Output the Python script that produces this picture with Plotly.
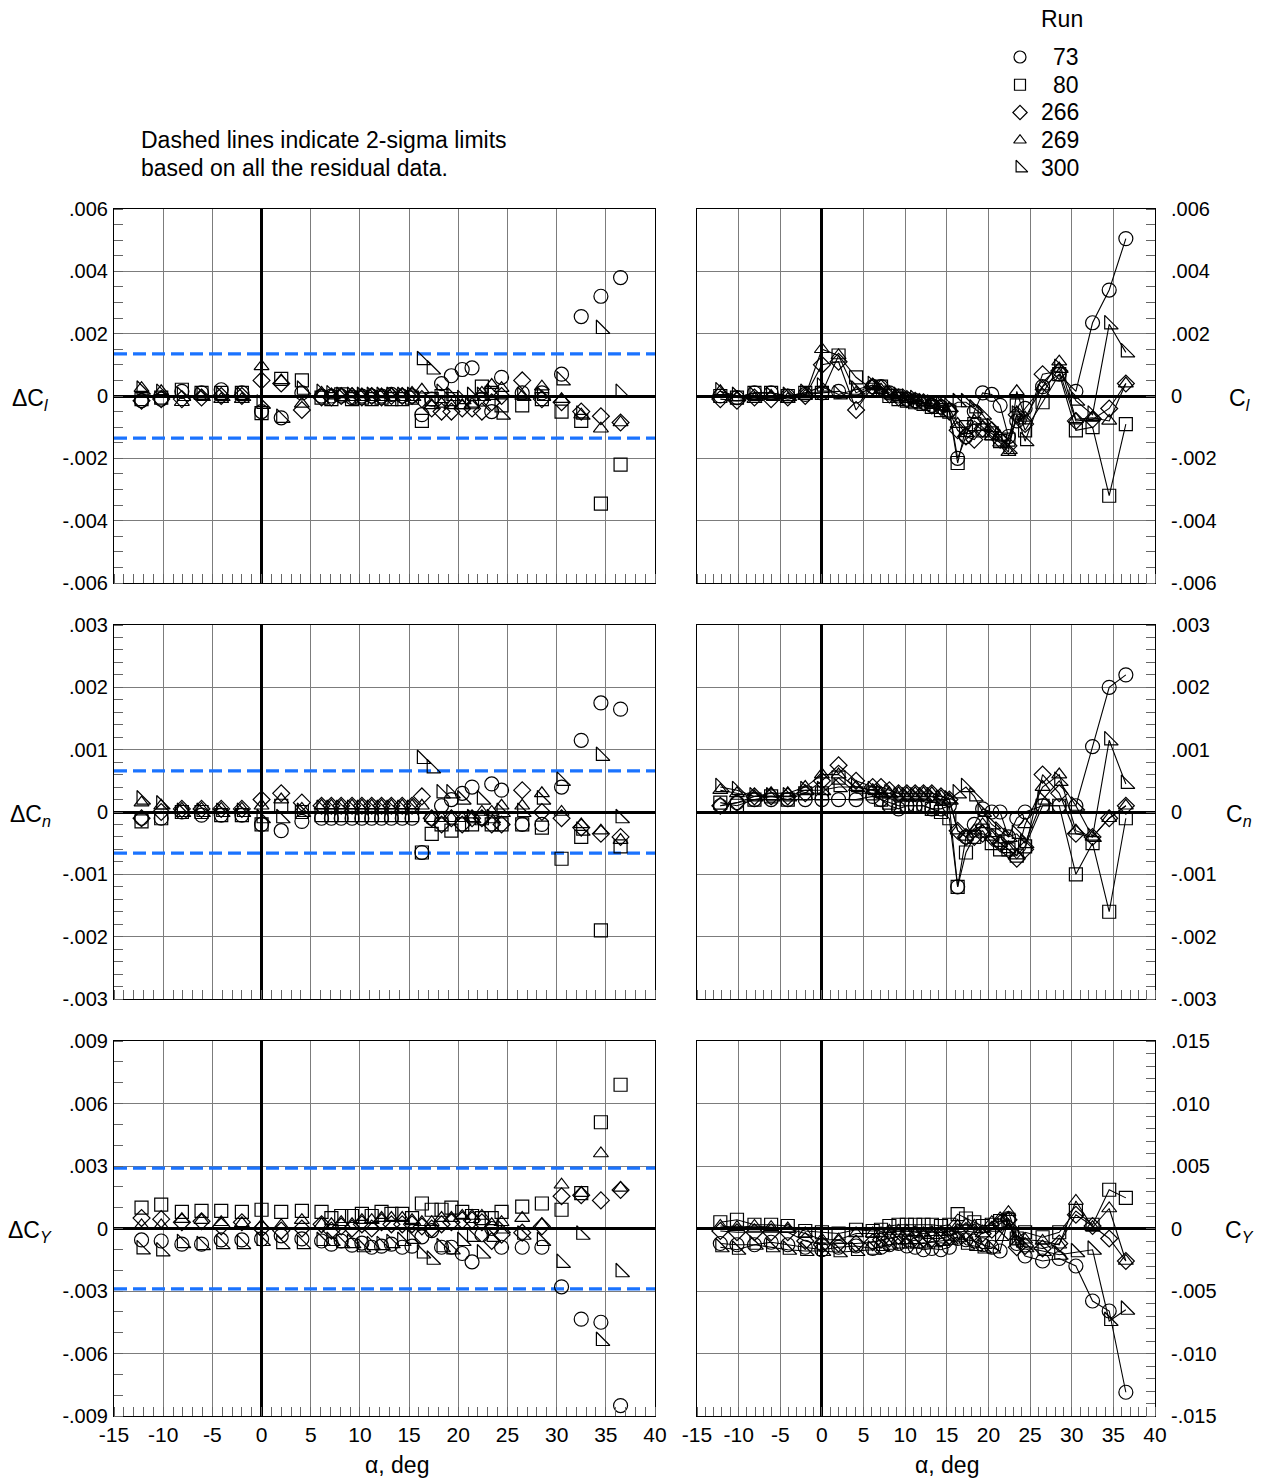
import plotly.graph_objects as go

W, H = 1267, 1479
FONT = "Liberation Sans, Arial, sans-serif"

# Angle of attack, deg (shared by all runs)
ALPHA = [-12.2, -10.2, -8.1, -6.1, -4.1, -2.0, 0.0, 2.0, 4.1, 6.1, 7.1, 8.1,
         9.2, 10.2, 11.2, 12.2, 13.2, 14.3, 15.3, 16.3, 17.3, 18.3, 19.3,
         20.4, 21.4, 22.4, 23.4, 24.4, 26.5, 28.5, 30.5, 32.5, 34.5, 36.5]

RUNS = ["73", "80", "266", "269", "300"]
SYMBOLS = ["circle-open", "square-open", "diamond-open", "triangle-up-open", "triangle-sw-open"]
SIZES = [14, 13, 13, 13, 15]

SCALE = 1e-3  # all coefficient lists below are in thousandths

# Residual rolling moment, delta C_l
dcl_73 = [-0.15, -0.1, 0.15, 0.1, 0.2, 0.1, -0.5, -0.7, 0.1, 0.0, 0.0, 0.0, -0.05, 0.0, 0.0, 0.0, 0.05,
          0.0, 0.0, -0.6, -0.1, 0.4, 0.65, 0.85, 0.9, -0.1, -0.5, 0.6, 0.1, 0.1, 0.7, 2.55, 3.2, 3.8]
dcl_80 = [-0.1, -0.05, 0.2, 0.1, 0.1, 0.1, -0.55, 0.55, 0.5, -0.05, -0.1, 0.05, -0.1, -0.05, -0.1, -0.05,
          -0.1, -0.1, -0.05, -0.8, -0.1, 0.0, -0.1, -0.2, -0.2, 0.3, 0.1, -0.3, -0.3, -0.1, -0.5, -0.8, -3.45, -2.2]
dcl_266 = [-0.15, -0.1, -0.1, -0.05, 0.0, 0.0, 0.5, 0.4, -0.45, -0.05, -0.05, 0.0, 0.0, -0.05, 0.0, -0.05,
           0.0, 0.0, 0.0, -0.1, -0.4, -0.5, -0.5, -0.4, -0.4, -0.5, -0.2, 0.0, 0.5, -0.1, -0.2, -0.5, -0.65, -0.85]
dcl_269 = [0.25, 0.15, -0.2, 0.0, -0.1, -0.1, 0.95, 0.5, -0.25, 0.1, 0.05, 0.05, 0.05, 0.05, 0.05, 0.05,
           0.05, 0.05, 0.1, 0.2, -0.3, -0.25, -0.3, -0.3, -0.25, 0.1, 0.35, 0.25, 0.0, 0.3, -0.1, -0.6, -1.05, -0.85]
dcl_300 = [0.2, 0.1, 0.0, 0.0, 0.0, 0.0, -0.25, -0.7, 0.2, 0.1, 0.05, 0.0, 0.0, 0.0, 0.0, 0.0,
           0.0, 0.0, 0.0, 1.15, 0.85, 0.1, 0.0, -0.1, 0.0, 0.0, 0.1, -0.6, 0.0, 0.0, 0.5, -0.6, 2.15, 0.1]

# Rolling moment, C_l
cl_73 = [0.0, -0.05, 0.1, 0.1, 0.0, 0.05, 0.1, 0.15, 0.0, 0.3, 0.3, 0.1, 0.0, -0.1, -0.15, -0.2, -0.3,
         -0.35, -0.45, -2.0, -1.3, -0.5, 0.1, 0.05, -0.3, -1.3, -0.8, -0.4, 0.3, 0.7, 0.15, 2.35, 3.4, 5.05]
cl_80 = [0.0, -0.05, 0.1, 0.1, 0.0, 0.1, 0.1, 1.3, 0.6, 0.2, 0.3, 0.0, -0.1, -0.15, -0.2, -0.25, -0.35,
         -0.45, -0.5, -2.15, -1.0, -0.9, -1.1, -1.2, -1.45, -1.4, -0.3, -1.1, -0.2, 0.7, -1.1, -1.0, -3.2, -0.9]
cl_266 = [-0.1, -0.15, -0.05, -0.1, -0.05, 0.0, 1.0, 1.1, -0.45, 0.3, 0.25, 0.05, -0.05, -0.1, -0.15, -0.2,
          -0.3, -0.35, -0.5, -1.1, -1.3, -1.4, -1.05, -1.1, -1.4, -1.6, -0.6, -0.9, 0.7, 0.8, -0.8, -0.75, -0.4, 0.4]
cl_269 = [0.15, -0.05, -0.1, 0.0, -0.1, 0.0, 1.5, 1.3, 0.1, 0.35, 0.2, 0.05, -0.05, -0.1, -0.15, -0.2,
          -0.25, -0.35, -0.4, -0.9, -1.2, -0.8, -1.0, -1.3, -1.5, -1.8, 0.15, -0.7, 0.3, 1.1, -0.75, -0.7, -0.8, 0.4]
cl_300 = [0.15, 0.0, 0.0, 0.0, 0.0, 0.1, 0.3, 0.05, 0.2, 0.35, 0.15, 0.05, 0.0, -0.05, -0.1, -0.2,
          -0.25, -0.3, -0.35, -0.2, -0.2, -0.4, -0.6, -1.0, -1.3, -1.7, -0.6, -1.45, 0.1, 0.9, -0.15, -0.6, 2.3, 1.4]

# Residual yawing moment, delta C_n
dcn_73 = [-0.1, -0.1, 0.0, -0.05, -0.05, -0.05, -0.2, -0.3, -0.15, -0.1, -0.1, -0.1, -0.1, -0.1, -0.1, -0.1,
          -0.1, -0.1, -0.1, -0.65, -0.1, 0.1, 0.2, 0.3, 0.4, -0.1, 0.45, 0.35, -0.2, -0.2, 0.4, 1.15, 1.75, 1.65]
dcn_80 = [-0.15, -0.1, 0.0, 0.0, -0.05, -0.05, -0.2, 0.1, 0.0, -0.05, -0.05, -0.05, -0.05, -0.05, -0.05, -0.05,
          -0.05, -0.05, -0.05, -0.65, -0.35, -0.2, -0.3, -0.2, -0.2, -0.1, -0.2, -0.2, -0.2, -0.25, -0.75, -0.4, -1.9, -0.55]
dcn_266 = [-0.1, 0.0, 0.05, 0.05, 0.05, 0.05, 0.2, 0.3, 0.15, 0.1, 0.1, 0.1, 0.1, 0.1, 0.1, 0.1,
           0.1, 0.1, 0.1, 0.25, -0.1, -0.2, -0.1, -0.2, -0.1, -0.1, -0.2, -0.2, 0.35, 0.0, -0.1, -0.25, -0.35, -0.4]
dcn_269 = [0.15, 0.1, 0.05, 0.05, 0.05, 0.05, 0.1, 0.2, 0.05, 0.1, 0.1, 0.1, 0.1, 0.1, 0.1, 0.1,
           0.1, 0.1, 0.1, 0.1, -0.1, -0.1, -0.1, -0.1, -0.1, 0.0, 0.0, 0.1, 0.1, 0.3, 0.0, -0.2, -0.3, -0.45]
dcn_300 = [0.2, 0.12, 0.0, 0.0, 0.0, 0.0, -0.1, -0.1, 0.0, 0.05, 0.05, 0.05, 0.05, 0.05, 0.05, 0.05,
           0.05, 0.05, 0.05, 0.85, 0.7, 0.3, 0.3, 0.2, -0.1, 0.2, -0.1, 0.0, 0.0, 0.2, 0.5, -0.3, 0.9, -0.1]

# Yawing moment, C_n
cn_73 = [0.1, 0.15, 0.2, 0.2, 0.2, 0.2, 0.2, 0.2, 0.2, 0.25, 0.2, 0.1, 0.05, 0.1, 0.1, 0.1,
         0.05, 0.05, 0.1, -1.2, -0.4, -0.2, 0.05, 0.0, 0.0, -0.4, -0.1, 0.0, 0.1, 0.1, 0.1, 1.05, 2.0, 2.2]
cn_80 = [0.15, 0.1, 0.2, 0.25, 0.2, 0.3, 0.3, 0.55, 0.3, 0.3, 0.2, 0.15, 0.1, 0.1, 0.1, 0.1,
         0.05, 0.0, -0.1, -1.2, -0.65, -0.4, -0.3, -0.5, -0.6, -0.6, -0.7, -0.55, 0.1, 0.1, -1.0, -0.5, -1.6, -0.1]
cn_266 = [0.1, 0.15, 0.25, 0.25, 0.25, 0.3, 0.5, 0.75, 0.5, 0.4, 0.4, 0.35, 0.3, 0.3, 0.3, 0.3,
          0.3, 0.25, 0.2, -0.3, -0.4, -0.4, -0.35, -0.4, -0.5, -0.6, -0.75, -0.6, 0.6, 0.3, -0.35, -0.4, -0.1, 0.1]
cn_269 = [0.35, 0.3, 0.25, 0.3, 0.3, 0.4, 0.6, 0.6, 0.4, 0.35, 0.3, 0.3, 0.3, 0.3, 0.3, 0.3,
          0.3, 0.25, 0.2, -0.3, -0.4, -0.3, -0.2, -0.4, -0.5, -0.6, -0.7, -0.2, 0.4, 0.6, -0.3, -0.4, -0.1, 0.1]
cn_300 = [0.4, 0.35, 0.25, 0.25, 0.25, 0.35, 0.35, 0.4, 0.4, 0.35, 0.3, 0.3, 0.25, 0.25, 0.25, 0.25,
          0.25, 0.2, 0.2, 0.3, 0.4, 0.25, 0.0, -0.2, -0.3, -0.4, -0.35, -0.5, 0.2, 0.5, 0.1, -0.4, 1.15, 0.45]

# Residual side force, delta C_Y
dcy_73 = [-0.55, -0.6, -0.75, -0.75, -0.55, -0.55, -0.5, -0.35, -0.5, -0.6, -0.75, -0.6, -0.8, -0.7, -0.9, -0.85,
          -0.75, -0.9, -0.85, -0.4, -0.1, -0.9, -0.9, -1.2, -1.6, -0.3, 0.0, -0.9, -0.9, -0.9, -2.8, -4.35, -4.5, -8.5]
dcy_80 = [1.0, 1.15, 0.8, 0.85, 0.85, 0.8, 0.9, 0.8, 0.85, 0.8, 0.5, 0.6, 0.6, 0.7, 0.6, 0.8,
          0.7, 0.7, 0.5, 1.2, 0.9, 0.9, 1.0, 0.8, 0.6, 0.5, 0.5, 0.8, 1.05, 1.2, 0.9, 1.7, 5.1, 6.9]
dcy_266 = [0.5, 0.45, 0.3, 0.35, 0.1, 0.3, 0.0, -0.1, 0.0, 0.2, -0.1, 0.1, 0.0, 0.2, 0.0, 0.3,
           0.2, 0.2, 0.2, 0.1, 0.0, 0.2, 0.3, 0.4, 0.4, 0.3, -0.6, -0.3, -0.2, 0.1, 1.55, 1.6, 1.35, 1.85]
dcy_269 = [0.15, 0.15, 0.45, 0.4, 0.3, 0.25, 0.15, 0.15, 0.4, 0.2, 0.2, 0.3, 0.2, 0.4, 0.4, 0.5,
           0.5, 0.5, 0.4, 0.3, 0.3, 0.5, 0.5, 0.6, 0.6, 0.6, 0.2, 0.3, 0.5, 0.2, 2.1, 1.7, 3.6, 1.95]
dcy_300 = [-1.0, -1.1, -0.7, -0.8, -0.75, -0.75, -0.6, -0.75, -0.75, -0.6, -0.6, -0.7, -0.7, -0.9, -0.8, -0.8,
           -0.7, -0.6, -0.5, -1.2, -1.5, -0.9, -1.0, -0.6, -0.4, -1.2, -0.4, 0.0, -0.3, -0.6, -1.65, -0.3, -5.4, -2.1]

# Side force, C_Y
cy_73 = [-1.2, -1.3, -1.3, -1.1, -1.3, -1.5, -1.7, -1.5, -1.4, -1.6, -1.5, -1.3, -1.2, -1.4, -1.5, -1.7,
         -1.6, -1.7, -1.5, -0.8, -0.9, -1.0, -1.3, -1.5, -1.8, 0.8, -1.2, -2.2, -2.6, -2.4, -3.0, -5.8, -6.6, -13.1]
cy_80 = [0.5, 0.7, 0.3, 0.3, 0.2, -0.2, -0.3, -0.4, -0.1, -0.2, -0.1, 0.2, 0.3, 0.3, 0.3, 0.3,
         0.3, 0.2, 0.3, 1.15, 0.8, 0.5, 0.2, 0.3, 0.6, 0.7, -0.8, -0.3, -0.7, -0.3, 1.4, 0.3, 3.1, 2.45]
cy_266 = [-0.2, -0.3, -0.3, -0.3, -0.3, -1.0, -1.3, -1.2, -1.2, -1.1, -0.9, -0.8, -0.6, -0.6, -0.7, -0.8,
          -0.8, -0.8, -0.6, -0.3, -0.2, -0.3, -0.4, -0.1, 0.4, 0.7, -1.5, -1.4, -1.6, -1.2, 1.1, 0.2, -0.8, -2.6]
cy_269 = [0.2, 0.1, 0.2, 0.1, 0.0, -0.4, -0.9, -0.9, -0.4, -0.4, -0.4, -0.2, -0.2, -0.2, -0.3, -0.4,
          -0.3, -0.3, -0.2, 0.2, 0.3, 0.2, -0.4, 0.5, 0.8, 1.3, -0.6, -0.9, -1.0, -1.3, 2.2, 0.1, 1.6, -2.6]
cy_300 = [-1.5, -1.7, -1.3, -1.5, -1.7, -1.8, -1.8, -1.9, -1.8, -1.7, -1.4, -1.3, -1.2, -1.2, -1.2, -1.2,
          -1.1, -1.0, -0.9, -0.7, -1.3, -1.4, -1.6, -1.6, -0.6, 0.4, -0.9, -1.5, -1.8, -2.1, -1.9, -1.7, -7.4, -6.5]

# 2-sigma limits of the residuals (thousandths)
SIGMA_CL = 1.35
SIGMA_CN = 0.66
SIGMA_CY = 2.9

X_RANGE = [-15, 40]
X_TICKS = list(range(-15, 41, 5))

PANELS = [
    dict(series=[dcl_73, dcl_80, dcl_266, dcl_269, dcl_300], lines=False, sigma=SIGMA_CL,
         ylim=0.006, ticks=[-0.006, -0.004, -0.002, 0, 0.002, 0.004, 0.006],
         text=["-.006", "-.004", "-.002", "0", ".002", ".004", ".006"], minor=0.0005,
         title="ΔC<sub><i>l</i></sub>"),
    dict(series=[cl_73, cl_80, cl_266, cl_269, cl_300], lines=True, sigma=None,
         ylim=0.006, ticks=[-0.006, -0.004, -0.002, 0, 0.002, 0.004, 0.006],
         text=["-.006", "-.004", "-.002", "0", ".002", ".004", ".006"], minor=0.0005,
         title="C<sub><i>l</i></sub>"),
    dict(series=[dcn_73, dcn_80, dcn_266, dcn_269, dcn_300], lines=False, sigma=SIGMA_CN,
         ylim=0.003, ticks=[-0.003, -0.002, -0.001, 0, 0.001, 0.002, 0.003],
         text=["-.003", "-.002", "-.001", "0", ".001", ".002", ".003"], minor=0.0002,
         title="ΔC<sub><i>n</i></sub>"),
    dict(series=[cn_73, cn_80, cn_266, cn_269, cn_300], lines=True, sigma=None,
         ylim=0.003, ticks=[-0.003, -0.002, -0.001, 0, 0.001, 0.002, 0.003],
         text=["-.003", "-.002", "-.001", "0", ".001", ".002", ".003"], minor=0.0002,
         title="C<sub><i>n</i></sub>"),
    dict(series=[dcy_73, dcy_80, dcy_266, dcy_269, dcy_300], lines=False, sigma=SIGMA_CY,
         ylim=0.009, ticks=[-0.009, -0.006, -0.003, 0, 0.003, 0.006, 0.009],
         text=["-.009", "-.006", "-.003", "0", ".003", ".006", ".009"], minor=0.001,
         title="ΔC<sub><i>Y</i></sub>"),
    dict(series=[cy_73, cy_80, cy_266, cy_269, cy_300], lines=True, sigma=None,
         ylim=0.015, ticks=[-0.015, -0.010, -0.005, 0, 0.005, 0.010, 0.015],
         text=["-.015", "-.010", "-.005", "0", ".005", ".010", ".015"], minor=0.001,
         title="C<sub><i>Y</i></sub>"),
]

# Pixel frame of each column / row of plotting areas
COLS = [(114, 655), (697, 1155)]
ROWS = [(209, 583), (625, 999), (1041, 1416)]


def fx(px):
    return px / W


def fy(py):
    return 1 - py / H


fig = go.Figure()
layout = dict(
    width=W, height=H, margin=dict(l=0, r=0, t=0, b=0, pad=0, autoexpand=False),
    paper_bgcolor="white", plot_bgcolor="white", showlegend=False,
    font=dict(family=FONT, size=20, color="black"),
)
annotations = []

GRID = "#7c7c7c"
TICKC = "#666666"
TEXT_SIZE = 23

for i, p in enumerate(PANELS):
    row, col = divmod(i, 2)
    n = i + 1
    xa = "x" if n == 1 else f"x{n}"
    ya = "y" if n == 1 else f"y{n}"
    xkey = "xaxis" if n == 1 else f"xaxis{n}"
    ykey = "yaxis" if n == 1 else f"yaxis{n}"
    c0, c1 = COLS[col]
    r0, r1 = ROWS[row]

    layout[xkey] = dict(
        domain=[fx(c0), fx(c1)], anchor=ya, range=X_RANGE, automargin=False,
        tickmode="array", tickvals=X_TICKS, ticktext=[str(v) for v in X_TICKS],
        showticklabels=(row == 2), ticks="", tickfont=dict(size=21),
        showgrid=True, gridcolor=GRID, gridwidth=1,
        zeroline=True, zerolinecolor="black", zerolinewidth=2.5,
        showline=True, linecolor="black", linewidth=1, mirror=True,
        minor=dict(tickmode="linear", tick0=0, dtick=1, ticks="inside", ticklen=9,
                   tickcolor=TICKC, tickwidth=1, showgrid=False),
        fixedrange=True,
    )
    ylim = p["ylim"]
    layout[ykey] = dict(
        domain=[fy(r1), fy(r0)], anchor=xa, range=[-ylim, ylim], automargin=False,
        side="left" if col == 0 else "right",
        tickmode="array", tickvals=p["ticks"], ticktext=p["text"], ticks="",
        ticklabelstandoff=1 if col == 0 else 11, tickfont=dict(size=20),
        showgrid=True, gridcolor=GRID, gridwidth=1,
        zeroline=True, zerolinecolor="black", zerolinewidth=2.5,
        showline=True, linecolor="black", linewidth=1, mirror=True,
        minor=dict(tickmode="linear", tick0=0, dtick=p["minor"], ticks="inside", ticklen=9,
                   tickcolor=TICKC, tickwidth=1, showgrid=False),
        fixedrange=True,
    )

    # 2-sigma band limits on the residual plots
    if p["sigma"] is not None:
        for sgn in (1, -1):
            fig.add_trace(go.Scatter(
                x=X_RANGE, y=[sgn * p["sigma"] * SCALE] * 2, xaxis=xa, yaxis=ya,
                mode="lines", line=dict(color="#1a73ff", width=3.2, dash="13px,6px"),
                hoverinfo="skip",
            ))

    for k, vals in enumerate(p["series"]):
        fig.add_trace(go.Scatter(
            x=ALPHA, y=[v * SCALE for v in vals], xaxis=xa, yaxis=ya,
            mode="lines+markers" if p["lines"] else "markers",
            line=dict(color="black", width=1.1),
            marker=dict(symbol=SYMBOLS[k], size=SIZES[k], color="black",
                        line=dict(color="black", width=1.2)),
            name=RUNS[k],
        ))

    # y-axis quantity label at the zero line
    ymid = (r0 + r1) / 2 + 3
    annotations.append(dict(
        text=p["title"], xref="paper", yref="paper",
        x=fx(30 if col == 0 else 1239), y=fy(ymid), xanchor="center", yanchor="middle",
        showarrow=False, font=dict(size=23, family=FONT),
    ))

# x-axis titles
for cx in (397, 947):
    annotations.append(dict(
        text="α, deg", xref="paper", yref="paper", x=fx(cx), y=fy(1465),
        xanchor="center", yanchor="middle", showarrow=False, font=dict(size=23, family=FONT),
    ))

# Explanatory note
for txt, yy in (("Dashed lines indicate 2-sigma limits", 140),
                ("based on all the residual data.", 168)):
    annotations.append(dict(
        text=txt, xref="paper", yref="paper", x=fx(139), y=fy(yy),
        xanchor="left", yanchor="middle", showarrow=False, font=dict(size=TEXT_SIZE, family=FONT),
    ))

# Run key: symbols on a small hidden axis, labels as text
KEY_ROWS = [1, 2, 3, 4, 5]
KEY_PY = [57, 85, 112, 140, 168]
step = (KEY_PY[-1] - KEY_PY[0]) / 4
top_px, bot_px = KEY_PY[0] - step / 2, KEY_PY[-1] + step / 2
layout["xaxis7"] = dict(domain=[fx(1000), fx(1040)], range=[-1, 1], anchor="y7",
                        visible=False, fixedrange=True, automargin=False)
layout["yaxis7"] = dict(domain=[fy(bot_px), fy(top_px)], range=[5.5, 0.5], anchor="x7",
                        visible=False, fixedrange=True, automargin=False)
for k in range(5):
    fig.add_trace(go.Scatter(
        x=[0], y=[KEY_ROWS[k]], xaxis="x7", yaxis="y7", mode="markers",
        marker=dict(symbol=SYMBOLS[k], size=SIZES[k] - 2, color="black",
                    line=dict(color="black", width=1.2)),
        hoverinfo="skip",
    ))
    annotations.append(dict(
        text=RUNS[k], xref="paper", yref="paper", x=fx(1081), y=fy(KEY_PY[k]),
        xanchor="right", yanchor="middle", showarrow=False, font=dict(size=TEXT_SIZE, family=FONT),
    ))
annotations.append(dict(
    text="Run", xref="paper", yref="paper", x=fx(1062), y=fy(19),
    xanchor="center", yanchor="middle", showarrow=False, font=dict(size=TEXT_SIZE, family=FONT),
))

layout["annotations"] = annotations
fig.update_layout(**layout)
fig.write_html("out.html")
